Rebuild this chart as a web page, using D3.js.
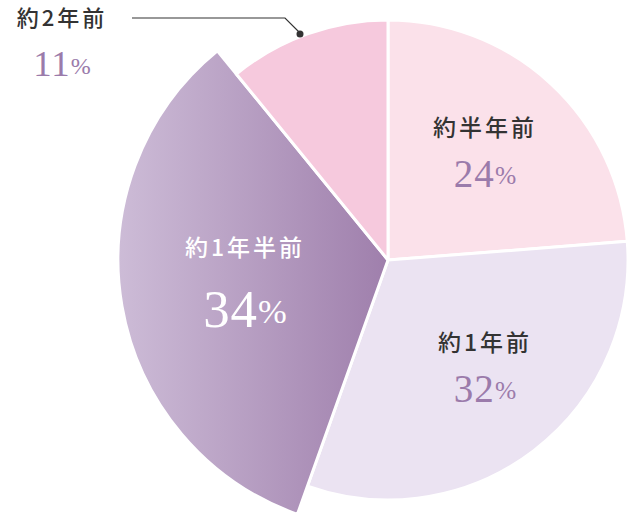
<!DOCTYPE html>
<html><head><meta charset="utf-8">
<script src="https://cdn.jsdelivr.net/npm/d3@7"></script>
<style>body{margin:0;background:#fff}</style></head>
<body><svg id="c" width="634" height="523"></svg>
<script>
const labels = ["約半年前","約1年前","約1年半前","約2年前"];
const values = [24,32,34,11];
const colors = ["#fbe1ea","#ebe3f2","url(#g)","#f6c9dd"];
const svg = d3.select("#c");
const defs = svg.append("defs");
const g0 = defs.append("linearGradient").attr("id","g").attr("gradientUnits","userSpaceOnUse")
  .attr("x1",-270).attr("x2",0).attr("y1",0).attr("y2",0);
g0.append("stop").attr("offset","0").attr("stop-color","#cdbcd7");
g0.append("stop").attr("offset","1").attr("stop-color","#9f7fac");
const cx=388, cy=260;
const pie = d3.pie().sort(null)(values);
const root = svg.append("g").attr("transform",`translate(${cx},${cy})`);
root.selectAll("path").data(pie).join("path")
  .attr("d",(d,i)=>d3.arc().innerRadius(0).outerRadius(i===2?270:240)(d))
  .attr("fill",(d,i)=>colors[i]).attr("stroke","#fff").attr("stroke-width",3).attr("stroke-linejoin","round");
const pos=[[485,130,178,"#333","#9b7bab",34,23],[485,345,393,"#333","#9b7bab",34,23],[245,250,315,"#fff","#fff",46,23],[62,20,68,"#333","#9b7bab",32,22]];
pos.forEach((p,i)=>{
  svg.append("text").attr("x",p[0]).attr("y",p[1]).attr("text-anchor","middle").attr("dominant-baseline","middle")
    .attr("font-family","Noto Sans CJK JP").attr("font-weight",500).attr("font-size",p[6]).attr("letter-spacing",3).attr("fill",p[3]).text(labels[i]);
  const t=svg.append("text").attr("x",p[0]).attr("y",p[2]).attr("text-anchor","middle").attr("dominant-baseline","middle")
    .attr("font-family","Liberation Serif").attr("fill",p[4]);
  t.append("tspan").attr("font-size",p[5]*1.15).attr("letter-spacing",1).text(values[i]);
  t.append("tspan").attr("font-size",p[5]*0.75).text("%");
});
svg.append("polyline").attr("points","132,18 285,18 300,33").attr("fill","none").attr("stroke","#333").attr("stroke-width",1.2);
svg.append("circle").attr("cx",300).attr("cy",34).attr("r",3.5).attr("fill","#333");
</script></body></html>
